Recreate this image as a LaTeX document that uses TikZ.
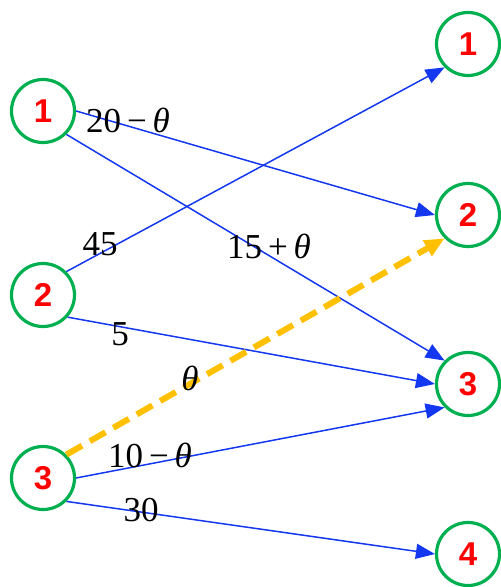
\documentclass[tikz,border=0pt]{standalone}
\usepackage{fontspec}
\setmainfont{Liberation Serif}
\newfontfamily\numfont{Liberation Sans}
\usetikzlibrary{arrows.meta}
\definecolor{nodeGreen}{HTML}{00B050}
\definecolor{numRed}{HTML}{FF0000}
\definecolor{flowBlue}{HTML}{1438F0}
\definecolor{augGold}{HTML}{FFC000}

\begin{document}
\begin{tikzpicture}[
    x=0.5pt, y=-0.5pt,
    vert/.style={circle, draw=nodeGreen, line width=1.6pt, fill=white,
                 minimum size=31.5pt, inner sep=0pt,
                 font=\numfont\fontsize{16.5}{16.5}\selectfont\bfseries\color{numRed}},
    flow/.style={draw=flowBlue, line width=0.75pt,
                 -{Triangle[length=9.5pt, width=7.5pt]}},
    augment/.style={draw=augGold, line width=3pt, dash pattern=on 9pt off 4.5pt,
                 -{Triangle[length=10pt, width=8.5pt]}},
    flowlab/.style={font=\fontsize{17.5}{17.5}\selectfont, inner sep=0pt},
  ]
    \useasboundingbox (0,0) rectangle (501,587);

    % sources
    \node[vert] (l1) at (43,111) {1};
    \node[vert] (l2) at (43,295) {2};
    \node[vert] (l3) at (43,478) {3};
    % sinks
    \node[vert] (r1) at (468,44) {1};
    \node[vert] (r2) at (468,215) {2};
    \node[vert] (r3) at (468,384) {3};
    \node[vert] (r4) at (468,554) {4};

    \draw[flow] (l1.east) -- (r2.west);
    \draw[flow] (l1.-45) -- (r3.135);
    \draw[flow] (l2.45) -- (r1.225);
    \draw[flow] (l2.-42) -- (r3.west);
    \draw[flow] (l3.east) -- (r3.225);
    \draw[flow] (l3.-45) -- (r4.west);
    \draw[augment] (l3.45) -- (r2.225);

    \node[flowlab] (w12) at (128,120) {20\,−\,\textit{θ}};
    \node[flowlab] (w13) at (269,246) {15\,+\,\textit{θ}};
    \node[flowlab] (w21) at (100,244) {45};
    \node[flowlab] (w23) at (120,334) {5};
    \node[flowlab] (w32) at (190,378) {\textit{θ}};
    \node[flowlab] (w33) at (150,455) {10\,−\,\textit{θ}};
    \node[flowlab] (w34) at (141,510) {30};
  \end{tikzpicture}
\end{document}
